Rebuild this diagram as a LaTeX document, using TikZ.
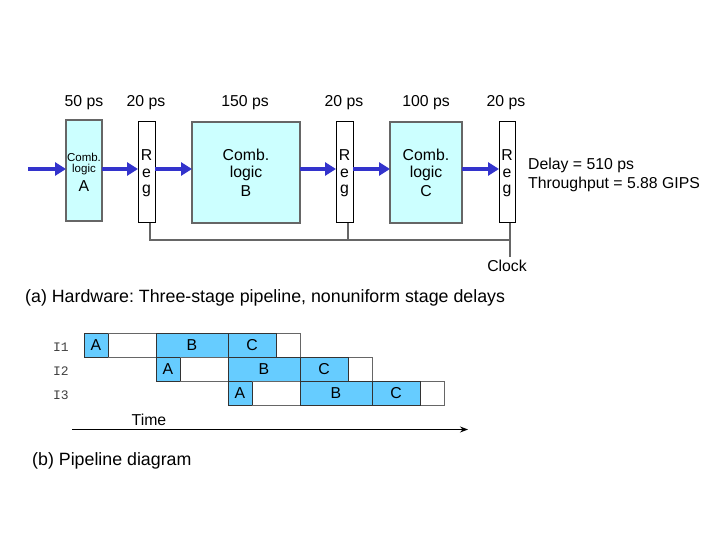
\documentclass[tikz,border=0pt]{standalone}
\usepackage{fontspec}
\setmainfont{Liberation Sans}
\setmonofont{Liberation Mono}
\usetikzlibrary{arrows.meta}
\frenchspacing
\definecolor{combfill}{HTML}{CCFFFF}
\definecolor{edge}{HTML}{666666}
\definecolor{arr}{HTML}{3333CC}
\definecolor{stagefill}{HTML}{66CCFF}
\tikzset{
  lbl/.style={font=\fontsize{15.8}{18}\selectfont, inner sep=0pt},
  captext/.style={font=\fontsize{17.8}{20}\selectfont, inner sep=0pt, anchor=west},
  comb/.style={draw=edge, line width=1.5pt, fill=combfill},
  reg/.style={draw=black, line width=1pt, fill=white},
  flow/.style={draw=arr, line width=4pt, -{Triangle[length=11pt,width=13pt]}, shorten >=0pt},
  clk/.style={draw=edge, line width=1.5pt},
  stg/.style={draw=black!80, line width=1pt, fill=stagefill},
  idle/.style={draw=edge, line width=1pt, fill=white},
}
\begin{document}
\begin{tikzpicture}[x=1pt,y=-1pt]
\useasboundingbox (0,0) rectangle (720,540);
% boxes
\path[comb] (66,120) rectangle (102,221);
\node[lbl,font=\fontsize{11.5}{13}\selectfont] (Acomb) at (84,157) {Comb.};
\node[lbl,font=\fontsize{11.5}{13}\selectfont] (Alog) at (84,170) {logic};
\node[lbl] (Aname) at (84,186) {A};
\coordinate (Al) at (66,169); \coordinate (Ar) at (102,169);

\path[reg] (138,122) rectangle (155,223);
\path[comb] (192,122) rectangle (300,223);
\path[reg] (336,122) rectangle (353,223);
\path[comb] (390,122) rectangle (462,223);
\path[reg] (499,122) rectangle (515,223);

\foreach \x/\n in {146.5/r1,344.5/r2,507/r3}{
  \node[lbl] (\n R) at (\x,155) {R};
  \node[lbl] (\n e) at (\x,173) {e};
  \node[lbl] (\n g) at (\x,191) {g};
}
\node[lbl] (Bc) at (246,155) {Comb.};
\node[lbl] (Bl) at (246,173) {logic};
\node[lbl] (Bn) at (246,191) {B};
\node[lbl] (Cc) at (426,155) {Comb.};
\node[lbl] (Cl) at (426,173) {logic};
\node[lbl] (Cn) at (426,191) {C};

% timing labels
\node[lbl] (t1) at (84,103) {50 ps};
\node[lbl] (t2) at (146,103) {20 ps};
\node[lbl] (t3) at (245,103) {150 ps};
\node[lbl] (t4) at (344,103) {20 ps};
\node[lbl] (t5) at (426,103) {100 ps};
\node[lbl] (t6) at (506,103) {20 ps};

% flow arrows
\coordinate (in) at (28,169);
\coordinate (r1l) at (138,169); \coordinate (r1r) at (155,169);
\coordinate (Bl0) at (192,169); \coordinate (Br0) at (300,169);
\coordinate (r2l) at (336,169); \coordinate (r2r) at (353,169);
\coordinate (Cl0) at (390,169); \coordinate (Cr0) at (462,169);
\coordinate (r3l) at (499,169);
\draw[flow] (in) -- (Al);
\draw[flow] (Ar) -- (r1l);
\draw[flow] (r1r) -- (Bl0);
\draw[flow] (Br0) -- (r2l);
\draw[flow] (r2r) -- (Cl0);
\draw[flow] (Cr0) -- (r3l);

% clock
\coordinate (c1) at (150,223); \coordinate (c1b) at (150,240);
\coordinate (c2) at (348,223); \coordinate (c2b) at (348,240);
\coordinate (c3) at (510,223); \coordinate (c3b) at (510,257);
\draw[clk] (c1) -- (c1b) -- (c2b -| c3) ;
\draw[clk] (c2) -- (c2b);
\draw[clk] (c3) -- (c3b);
\node[lbl] (clock) at (507,266) {Clock};

\node[lbl,anchor=west] (delay) at (528,165) {Delay = 510 ps};
\node[lbl,anchor=west] (thr) at (528,184) {Throughput = 5.88 GIPS};

\node[captext] (capa) at (25,298) {(a) Hardware: Three-stage pipeline, nonuniform stage delays};

% pipeline diagram
\foreach \r/\o in {1/0,2/72,3/144}{
  \pgfmathsetmacro{\yt}{333.3+24*(\r-1)}
  \pgfmathsetmacro{\yb}{\yt+24}
  \path[idle] ({84+\o},\yt) rectangle ({300+\o},\yb);
  \path[stg] ({84+\o},\yt) rectangle ({108+\o},\yb);
  \path[stg] ({156+\o},\yt) rectangle ({228+\o},\yb);
  \path[stg] ({228+\o},\yt) rectangle ({276+\o},\yb);
  \draw[edge,line width=1pt] ({108+\o},\yt) -- ({156+\o},\yt);
  \draw[edge,line width=1pt] ({108+\o},\yb) -- ({156+\o},\yb);
}
\foreach \r/\o in {1/0,2/72,3/144}{
  \pgfmathsetmacro{\ym}{345.3+24*(\r-1)}
  \node[lbl] (sa\r) at ({96+\o},\ym) {A};
  \node[lbl] (sb\r) at ({192+\o},\ym) {B};
  \node[lbl] (sc\r) at ({252+\o},\ym) {C};
  \node[lbl,font=\ttfamily\fontsize{13}{15}\selectfont,text=black!75] (I\r) at (61,{347+24*(\r-1)}) {I\r};
}
\node[lbl] (time) at (149,420) {Time};
\coordinate (ts) at (72,429.5); \coordinate (te) at (468,429.5);
\draw[black, line width=1pt, -{Stealth[length=8pt,width=6pt]}] (ts) -- (te);

\node[captext] (capb) at (32,461) {(b) Pipeline diagram};
\end{tikzpicture}
\end{document}
